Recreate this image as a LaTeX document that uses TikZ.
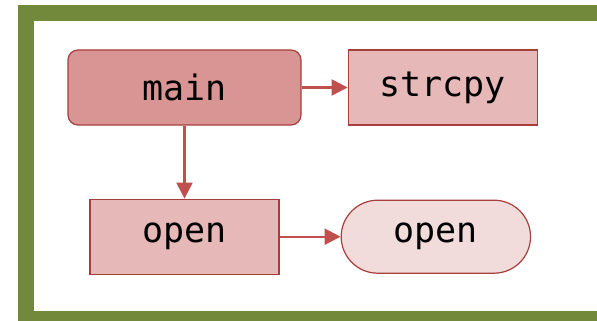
\documentclass[tikz,border=0pt]{standalone}
\usepackage{fontspec}
\setmonofont{DejaVu Sans Mono}
\usepackage{tikz}
\usetikzlibrary{positioning,arrows.meta,shapes.misc}
\definecolor{framegreen}{RGB}{114,137,59}
\definecolor{rootfill}{RGB}{217,149,148}
\definecolor{callfill}{RGB}{230,184,183}
\definecolor{sysfill}{RGB}{242,220,219}
\definecolor{edgered}{RGB}{192,80,77}
\definecolor{boxline}{RGB}{166,62,60}
\tikzset{
	fnbox/.style={draw=boxline, line width=1.2pt, minimum width=189pt, minimum height=75pt, font=\fontsize{35}{40}\selectfont\ttfamily},
	rootbox/.style={fnbox, fill=rootfill, rounded corners=10pt, minimum width=233pt},
	callbox/.style={fnbox, fill=callfill},
	sysbox/.style={fnbox, fill=sysfill, rounded rectangle, minimum width=196pt, minimum height=73pt},
	callarrow/.style={draw=edgered, line width=2.2pt, -{Triangle[length=16pt,width=16pt]}}
}

\begin{document}
\begin{tikzpicture}[x=1pt, y=1pt]
			%%%%% START %%%%%
			\useasboundingbox (0, 0) rectangle (597, 321);
			\begin{scope}
				\clip (0, 0) rectangle (597, 321);
				\draw[framegreen, line width=16pt] (640, 308) -- (26, 308) -- (26, 2) -- (640, 2);
			\end{scope}
			
			\node[rootbox] (main) at (184.5, 233.5) {main};
			\node[callbox, right=46pt of main] (strcpy) {strcpy};
			\node[callbox, below=73pt of main] (open) {open};
			\node[sysbox, right=61pt of open] (sysopen) {open};
			
			\draw[callarrow] (main) -- (strcpy);
			\draw[callarrow] (main) -- (open);
			\draw[callarrow] (open) -- (sysopen);
			%%%%% END %%%%%
		\end{tikzpicture}
\end{document}
